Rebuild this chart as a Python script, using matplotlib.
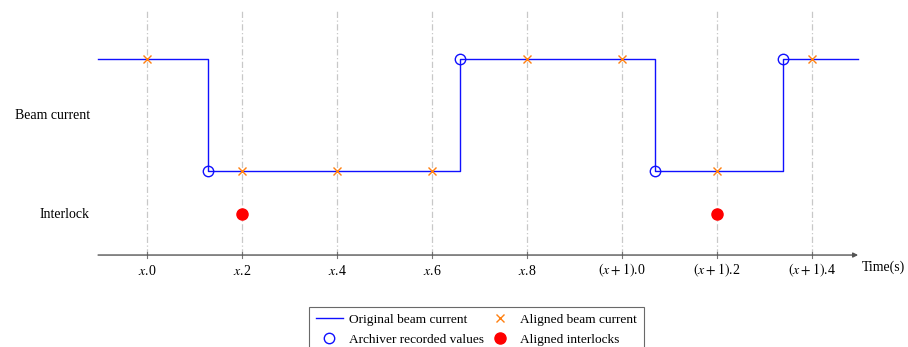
import matplotlib.pyplot as plt

plt.rcParams['font.family'] = 'Liberation Serif'
plt.rcParams['mathtext.fontset'] = 'stix'

# original beam current (step, post)
beam_t = [-0.103, 0.128, 0.659, 1.069, 1.339, 1.497]
beam_v = [1, 0, 1, 0, 1, 1]

# archiver recorded values (at the transitions)
arch_t = [0.128, 0.659, 1.069, 1.339]
arch_v = [0, 1, 0, 1]

# aligned beam current at the grid times
ticks = [0.0, 0.2, 0.4, 0.6, 0.8, 1.0, 1.2, 1.4]
tick_labels = ['$x$.0', '$x$.2', '$x$.4', '$x$.6', '$x$.8',
               '$(x+1)$.0', '$(x+1)$.2', '$(x+1)$.4']
aligned_v = [1, 0, 0, 0, 1, 1, 0, 1]

# aligned interlocks
inter_t = [0.2, 1.2]
inter_level = -0.384

axis_y = -0.75

fig = plt.figure(figsize=(9.08, 3.47), dpi=100)
ax = fig.add_axes([0, 0, 1, 1])
ax.set_xlim(-0.3095, 1.602)
ax.set_ylim(-1.571, 1.527)
ax.axis('off')

for t, lab in zip(ticks, tick_labels):
    ax.plot([t, t], [axis_y, 1.44], color='#c8c8c8', lw=0.9,
            ls=(0, (5, 2, 1, 2)), zorder=1)
    ax.plot([t, t], [axis_y - 0.03, axis_y + 0.03], color='#777777', lw=0.8, zorder=2)
    ax.text(t, axis_y - 0.14, lab, ha='center', va='center', fontsize=10)

ax.annotate('', xy=(1.497, axis_y), xytext=(-0.103, axis_y),
            arrowprops=dict(arrowstyle='-|>', color='#555555', lw=1.0,
                            mutation_scale=7, shrinkA=0, shrinkB=0))
ax.text(1.505, axis_y - 0.11, 'Time(s)', ha='left', va='center', fontsize=10)

ax.text(-0.12, 0.5, 'Beam current', ha='right', va='center', fontsize=10)
ax.text(-0.12, inter_level, 'Interlock', ha='right', va='center', fontsize=10)

ax.step(beam_t, beam_v, where='post', color='#1010ff', lw=1.0, zorder=3,
        label='Original beam current')
ax.plot(ticks, aligned_v, ls='none', marker='x', color='#ff8010', ms=6, mew=1.0,
        zorder=4, label='Aligned beam current')
ax.plot(arch_t, arch_v, ls='none', marker='o', mfc='none', mec='#1010ff', ms=7.5,
        mew=1.0, zorder=4, label='Archiver recorded values')
ax.plot(inter_t, [inter_level] * len(inter_t), ls='none', marker='o', color='#ff0000',
        ms=8, zorder=4, label='Aligned interlocks')

h, l = ax.get_legend_handles_labels()
order = [0, 2, 1, 3]
leg = ax.legend([h[i] for i in order], [l[i] for i in order], ncol=2,
                loc='upper center', bbox_to_anchor=(0.525, 1 - 307 / 347),
                borderaxespad=0, fontsize=9.6, frameon=True, fancybox=False,
                edgecolor='#444444', handlelength=2.0, columnspacing=0.2,
                handletextpad=0.5, borderpad=0.5, labelspacing=0.55)
leg.get_frame().set_linewidth(0.8)

fig.savefig('out.png', dpi=100)
